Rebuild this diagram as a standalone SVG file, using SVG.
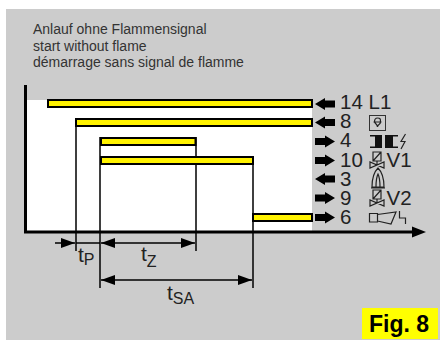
<svg xmlns="http://www.w3.org/2000/svg" width="440" height="340" viewBox="0 0 440 340">
<style>
text{font-family:"Liberation Sans",Arial,sans-serif;fill:#222}
.cap{font-size:14px;fill:#333}
.lab{font-size:20.500px;fill:#222}
.bar{fill:#fff200;stroke:#000;stroke-width:2}
.ln{fill:none;stroke:#000;stroke-width:1.500}
.ax{fill:none;stroke:#000;stroke-width:3}
.ic{fill:none;stroke:#222;stroke-width:1.200}
</style>
<defs>
<marker id="ae" markerUnits="userSpaceOnUse" markerWidth="15" markerHeight="10" refX="14" refY="5" orient="auto"><path d="M0 0L14 5L0 10Z" fill="#000"/></marker>
<marker id="as" markerUnits="userSpaceOnUse" markerWidth="15" markerHeight="10" refX="0" refY="5" orient="auto"><path d="M14 0L0 5L14 10Z" fill="#000"/></marker>
<path id="l" d="M0 0L10 -6V-3.500H20V3.500H10V6Z" fill="#000"/>
<path id="r" d="M20 0L10 -6V-3.500H0V3.500H10V6Z" fill="#000"/>
<g id="v"><path class="ic" d="M-4 -9H4V0H-4ZM-4 0L4 -9M0 0V4M-7 1V7L7 1V7L-7 1Z"/></g>
</defs>
<rect x="6" y="9" width="434" height="331" fill="#cccccc"/>
<rect x="26" y="100" width="286" height="132" fill="#fff"/>
<g id="title">
<text class="cap" x="33" y="34">Anlauf ohne Flammensignal</text>
<text class="cap" x="33" y="50.500">start without flame</text>
<text class="cap" x="33" y="66.500">démarrage sans signal de flamme</text>
</g>
<g id="connectors">
<path class="ln" d="M76 118V251M100 137V288M196 137V251M253 156V288"/>
<path class="ax" d="M25.500 85V232H415"/>
<path d="M412 226.500L426 232L412 237.500Z" fill="#000"/>
<path class="ln" d="M55 243H75" marker-end="url(#ae)"/>
<path class="ln" d="M76 243H100"/>
<path class="ln" d="M101 243H195" marker-start="url(#as)" marker-end="url(#ae)"/>
<path class="ln" d="M101 280H252" marker-start="url(#as)" marker-end="url(#ae)"/>
</g>
<g id="bars">
<rect class="bar" x="48" y="100" width="264" height="7"/>
<rect class="bar" x="76" y="119" width="236" height="7"/>
<rect class="bar" x="101" y="138" width="94.500" height="7"/>
<rect class="bar" x="101" y="157" width="152" height="7"/>
<rect class="bar" x="253" y="214" width="59" height="7"/>
</g>
<g id="n14"><use href="#l" x="315" y="104"/><text class="lab" x="340" y="109">14 L1</text></g>
<g id="n8"><use href="#l" x="315" y="122.500"/><text class="lab" x="340" y="128">8</text><rect x="369.500" y="115.500" width="16" height="15" fill="none" stroke="#333"/><path class="ic" d="M377.500 118c-3 0-3 3-3 4s3 2 3 5c0-3 3-2 3-5s0-4-3-4M373.500 122H381.500"/></g>
<g id="n4"><use href="#r" x="315" y="141.500"/><text class="lab" x="340" y="147">4</text><path d="M370 135H382V148H370V146.500H375V136.500H370ZM385 135H398V136.500H393V146.500H398V148H385Z" fill="#111"/><path class="ic" d="M405.500 134L401 141.500H405L401 149"/></g>
<g id="n10"><use href="#r" x="315" y="160.500"/><text class="lab" x="340" y="167">10</text><use href="#v" x="377" y="161"/><text class="lab" x="386.500" y="167">V1</text></g>
<g id="n3"><use href="#l" x="315" y="179"/><text class="lab" x="340" y="185.500">3</text><path class="ic" d="M372 187C372 177 374 172 378 168C382 172 384 177 384 187ZM376 187C376 180 377 176 378 174C379 176 380 180 380 187ZM371 188H385"/></g>
<g id="n9"><use href="#r" x="315" y="198"/><text class="lab" x="340" y="205">9</text><use href="#v" x="377" y="199"/><text class="lab" x="386.500" y="205">V2</text></g>
<g id="n6"><use href="#r" x="315" y="217.500"/><text class="lab" x="340" y="223.500">6</text><path class="ic" d="M369.500 213.500H377.500V222H369.500ZM377.500 214.500L396 212L391 224L377.500 221M399.500 211V218H405.500V224"/></g>
<g id="tp"><text x="78" y="262" font-size="21">t<tspan font-size="16" dy="3">P</tspan></text></g>
<g id="tz"><text x="141" y="261" font-size="21">t<tspan font-size="16" dy="6">Z</tspan></text></g>
<g id="tsa"><text x="167" y="300" font-size="21">t<tspan font-size="16" dy="4">SA</tspan></text></g>
<g id="fig"><rect x="362" y="308" width="76" height="31" fill="#ffff00"/><text x="369" y="332" font-size="23" font-weight="bold" style="fill:#000">Fig. 8</text></g>
</svg>
